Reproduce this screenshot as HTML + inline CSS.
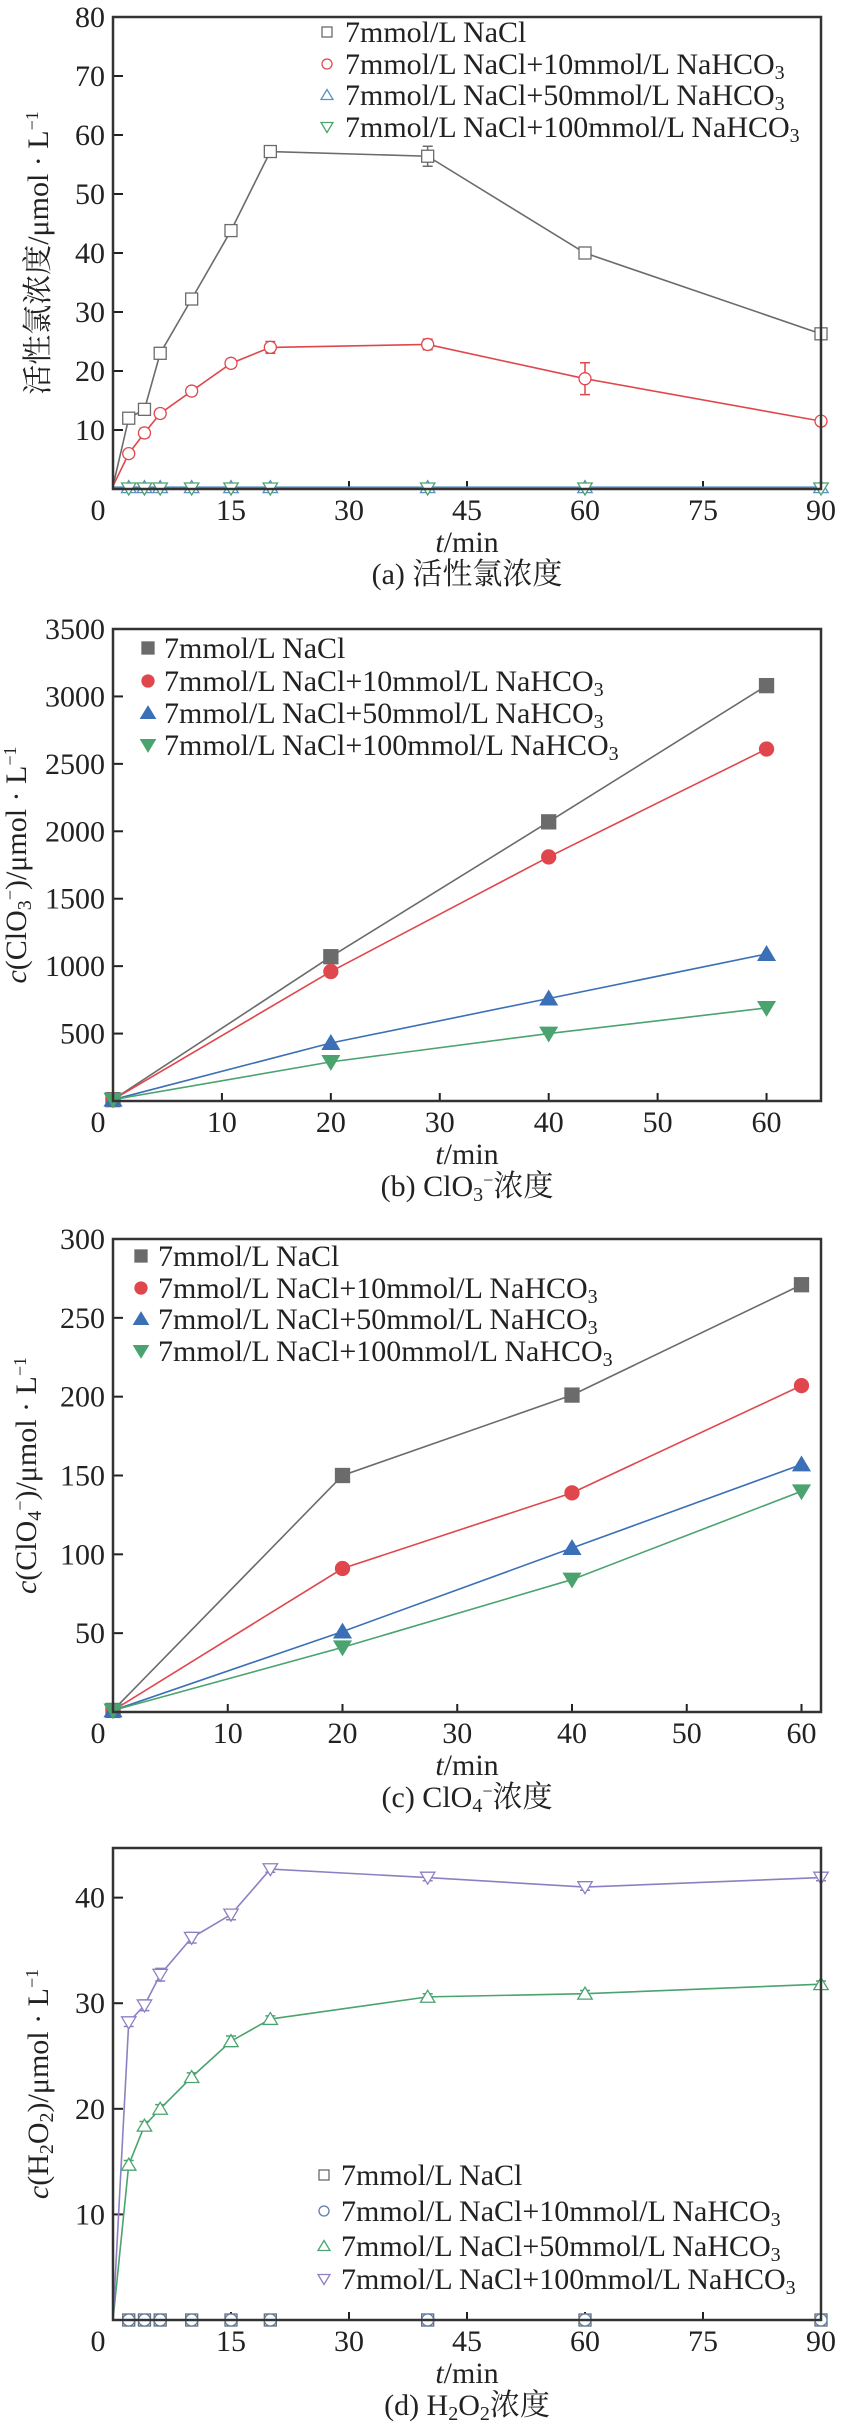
<!DOCTYPE html>
<html><head><meta charset="utf-8">
<style>
html,body{margin:0;padding:0;background:#fff;}
svg{display:block;}
svg text{font-family:"Liberation Serif","Noto Serif CJK SC","Noto Sans CJK SC",serif;fill:#222;}
</style></head>
<body>
<svg id="fig" width="841" height="2426" viewBox="0 0 841 2426" xmlns="http://www.w3.org/2000/svg" font-family="Liberation Serif, Noto Serif CJK SC, serif"></svg>
<script>
// ---------- data ----------
const xA = [0,2,4,6,10,15,20,40,60,90];
const a_nacl = [0.5,12,13.5,23,32.2,43.8,57.2,56.4,40,26.3];
const a_nacl_err = [0,0.5,0.5,0.5,0.6,0.4,0.6,1.7,0.6,0.6];
const a_10 = [0.5,6,9.5,12.8,16.6,21.3,24,24.5,18.7,11.5];
const a_10_err = [0,0.6,0.8,0.7,0.7,0.7,1,0.9,2.7,0.5];
const a_50 = [0.3,0.3,0.3,0.3,0.3,0.3,0.3,0.3,0.3,0.3];
const a_100 = [0.1,0.1,0.1,0.1,0.1,0.1,0.1,0.1,0.1,0.1];
const yTicksA = [10,20,30,40,50,60,70,80];
const xTicksA = [15,30,45,60,75,90];

const xB = [0,20,40,60];
const b_nacl = [10,1070,2070,3080];
const b_10 = [10,960,1810,2610];
const b_50 = [10,430,760,1090];
const b_100 = [10,290,500,690];
const yTicksB = [500,1000,1500,2000,2500,3000,3500];
const xTicksB = [10,20,30,40,50,60];

const xC = [0,20,40,60];
const c_nacl = [1,150,201,271];
const c_10 = [1,91,139,207];
const c_50 = [1,51,104,157];
const c_100 = [1,41,84,140];
const yTicksC = [50,100,150,200,250,300];
const xTicksC = [10,20,30,40,50,60];

const xD = [0,2,4,6,10,15,20,40,60,90];
const d_nacl = [0,0,0,0,0,0,0,0,0,0];
const d_10 = [0,0,0,0,0,0,0,0,0,0];
const d_50 = [0,14.7,18.4,20,23,26.4,28.5,30.6,30.9,31.8];
const d_50_err = [0,0.4,0.4,0.4,0.4,0.5,0.3,0.3,0.3,0.3];
const d_100 = [0,28.2,29.8,32.7,36.2,38.4,42.7,41.9,41,41.9];
const d_100_err = [0,0.4,0.5,0.6,0.5,0.5,0.3,0.3,0.3,0.3];
const yTicksD = [10,20,30,40];
const xTicksD = [15,30,45,60,75,90];

const NS = "http://www.w3.org/2000/svg";
const svg = document.getElementById('fig');
function mk(tag, attrs, parent){
  const e = document.createElementNS(NS, tag);
  for (const k in attrs) e.setAttribute(k, attrs[k]);
  (parent||svg).appendChild(e);
  return e;
}
const GRAY="#6b6b6b", RED="#e0474c", BLUE="#3b6fb6", GREEN="#4ba36f", PURPLE="#8f7fc2";

function marker(g, shape, cx, cy, color, filled, s){
  let e;
  const fill = filled ? color : "#fff";
  if (shape==='sq') e = mk('rect',{x:cx-s,y:cy-s,width:2*s,height:2*s,fill:fill,stroke:color,'stroke-width':1.3},g);
  else if (shape==='ci') e = mk('circle',{cx:cx,cy:cy,r:s,fill:fill,stroke:color,'stroke-width':1.3},g);
  else if (shape==='up') e = mk('polygon',{points:`${cx},${cy-s*1.1} ${cx-s*1.2},${cy+s*0.9} ${cx+s*1.2},${cy+s*0.9}`,fill:fill,stroke:color,'stroke-width':1.3},g);
  else e = mk('polygon',{points:`${cx},${cy+s*1.1} ${cx-s*1.2},${cy-s*0.9} ${cx+s*1.2},${cy-s*0.9}`,fill:fill,stroke:color,'stroke-width':1.3},g);
  return e;
}

function chart(cfg){
  const g = mk('g',{});
  
  
  const L=113, R=821, T=cfg.top, B=cfg.bottom;
  const sx = v => L + (v - 0) / cfg.xmax * (R-L);
  const sy = v => B - v / cfg.ymax * (B-T);
  cfg.yTicks.forEach(t=>{
    const y = sy(t);
    const tk = mk('line',{x1:L,x2:L+10,y1:y,y2:y,stroke:'#222','stroke-width':2},g);
    
    
    const lb = mk('text',{x:105,y:y+10,'text-anchor':'end','font-size':30},g);
    lb.textContent = t;
    
    
  });
  cfg.xTicks.forEach(t=>{
    const x = sx(t);
    const tk = mk('line',{x1:x,x2:x,y1:B,y2:B-8,stroke:'#222','stroke-width':2},g);
    
    
    const lb = mk('text',{x:x,y:B+31,'text-anchor':'middle','font-size':30},g);
    lb.textContent = t;
    
    
  });
  const z = mk('text',{x:98,y:B+31,'text-anchor':'middle','font-size':30},g);
  z.textContent='0';
  
  
  cfg.series.forEach(s=>{
    const sg = mk('g',{},g);
    
    
    const pts = cfg.x.map((xv,i)=>`${sx(xv)},${sy(s.y[i])}`).join(' ');
    const pl = mk('polyline',{points:pts,fill:'none',stroke:s.color,'stroke-width':1.6},sg);
    
    
    cfg.x.forEach((xv,i)=>{
      if (i===0 && !cfg.firstMarker) return;
      const cx=sx(xv), cy=sy(s.y[i]);
      if (s.err && s.err[i]>0){
        const y1=sy(s.y[i]+s.err[i]), y2=sy(s.y[i]-s.err[i]);
        const eb = mk('path',{d:`M${cx},${y1}V${y2}M${cx-5},${y1}H${cx+5}M${cx-5},${y2}H${cx+5}`,stroke:s.color,'stroke-width':1.5,fill:'none'},sg);
        
        
      }
      const m = marker(sg, s.shape, cx, cy, s.color, cfg.filled, cfg.ms);
      
      
    });
  });
  const fr = mk('rect',{x:L,y:T,width:R-L,height:B-T,fill:'none',stroke:'#333','stroke-width':2.5},g);
  
  
  const lg = mk('g',{},g);
  
  
  cfg.series.forEach((s,i)=>{
    const y = cfg.leg.ys[i];
    const m = marker(lg, s.shape, cfg.leg.mx, y, s.color, cfg.filled, cfg.leg.ms);
    
    
    const t = mk('text',{x:cfg.leg.tx,y:y+10,'font-size':30},lg);
    t.innerHTML = s.label;
    
    
  });
  const yt = mk('text',{x:0,y:0,'font-size':30,'text-anchor':'middle',transform:`translate(${cfg.ytx},${(T+B)/2}) rotate(-90)`},g);
  yt.innerHTML = cfg.ytitle;
  
  
  const xt = mk('text',{x:467,y:B+63,'font-size':30,'text-anchor':'middle'},g);
  xt.innerHTML = '<tspan font-style="italic">t</tspan>/min';
  
  
  const cp = mk('text',{x:467,y:B+95,'font-size':30,'text-anchor':'middle'},g);
  cp.innerHTML = cfg.caption;
  
  
}
const SUB3 = '<tspan baseline-shift="-25%" font-size="20">3</tspan>';
const lab = [
  '7mmol/L NaCl',
  '7mmol/L NaCl+10mmol/L NaHCO'+SUB3,
  '7mmol/L NaCl+50mmol/L NaHCO'+SUB3,
  '7mmol/L NaCl+100mmol/L NaHCO'+SUB3
];
const UNIT = '/μmol · L<tspan baseline-shift="super" font-size="18">−1</tspan>';

chart({name:'chart-active-chlorine',top:17,bottom:489,xmax:90,ymax:80,x:xA,yTicks:yTicksA,xTicks:xTicksA,filled:false,ms:6,firstMarker:false,
  series:[
    {name:'series-nacl',y:a_nacl,err:a_nacl_err,color:GRAY,shape:'sq',label:lab[0]},
    {name:'series-10mm',y:a_10,err:a_10_err,color:RED,shape:'ci',label:lab[1]},
    {name:'series-50mm',y:a_50,color:'#5b8fc7',shape:'up',label:lab[2]},
    {name:'series-100mm',y:a_100,color:GREEN,shape:'dn',label:lab[3]}],
  leg:{mx:327,tx:345,ms:5,ys:[32,64,95,127]},
  ytx:48, ytitle:'活性氯浓度'+UNIT,
  caption:'(a) 活性氯浓度'});

chart({name:'chart-chlorate',top:629,bottom:1101,xmax:65,ymax:3500,x:xB,yTicks:yTicksB,xTicks:xTicksB,filled:true,ms:7,firstMarker:true,
  series:[
    {name:'series-nacl',y:b_nacl,color:GRAY,shape:'sq',label:lab[0]},
    {name:'series-10mm',y:b_10,color:RED,shape:'ci',label:lab[1]},
    {name:'series-50mm',y:b_50,color:BLUE,shape:'up',label:lab[2]},
    {name:'series-100mm',y:b_100,color:GREEN,shape:'dn',label:lab[3]}],
  leg:{mx:148,tx:164,ms:6,ys:[648,681,713,745]},
  ytx:26, ytitle:'<tspan font-style="italic">c</tspan>(ClO<tspan baseline-shift="-25%" font-size="20">3</tspan><tspan baseline-shift="super" font-size="18">−</tspan>)'+UNIT,
  caption:'(b) ClO<tspan baseline-shift="-25%" font-size="20">3</tspan><tspan baseline-shift="super" font-size="18">−</tspan>浓度'});

chart({name:'chart-perchlorate',top:1239,bottom:1712,xmax:61.7,ymax:300,x:xC,yTicks:yTicksC,xTicks:xTicksC,filled:true,ms:7,firstMarker:true,
  series:[
    {name:'series-nacl',y:c_nacl,color:GRAY,shape:'sq',label:lab[0]},
    {name:'series-10mm',y:c_10,color:RED,shape:'ci',label:lab[1]},
    {name:'series-50mm',y:c_50,color:BLUE,shape:'up',label:lab[2]},
    {name:'series-100mm',y:c_100,color:GREEN,shape:'dn',label:lab[3]}],
  leg:{mx:141,tx:158,ms:6,ys:[1256,1288,1319,1351]},
  ytx:36, ytitle:'<tspan font-style="italic">c</tspan>(ClO<tspan baseline-shift="-25%" font-size="20">4</tspan><tspan baseline-shift="super" font-size="18">−</tspan>)'+UNIT,
  caption:'(c) ClO<tspan baseline-shift="-25%" font-size="20">4</tspan><tspan baseline-shift="super" font-size="18">−</tspan>浓度'});

chart({name:'chart-h2o2',top:1848,bottom:2320,xmax:90,ymax:44.7,x:xD,yTicks:yTicksD,xTicks:xTicksD,filled:false,ms:6,firstMarker:false,
  series:[
    {name:'series-nacl',y:d_nacl,color:GRAY,shape:'sq',label:lab[0]},
    {name:'series-10mm',y:d_10,color:'#5a7ea8',shape:'ci',label:lab[1]},
    {name:'series-50mm',y:d_50,err:d_50_err,color:GREEN,shape:'up',label:lab[2]},
    {name:'series-100mm',y:d_100,err:d_100_err,color:PURPLE,shape:'dn',label:lab[3]}],
  leg:{mx:324,tx:341,ms:5,ys:[2175,2211,2246,2279]},
  ytx:48, ytitle:'<tspan font-style="italic">c</tspan>(H<tspan baseline-shift="-25%" font-size="20">2</tspan>O<tspan baseline-shift="-25%" font-size="20">2</tspan>)'+UNIT,
  caption:'(d) H<tspan baseline-shift="-25%" font-size="20">2</tspan>O<tspan baseline-shift="-25%" font-size="20">2</tspan>浓度'});
</script>
</body></html>
